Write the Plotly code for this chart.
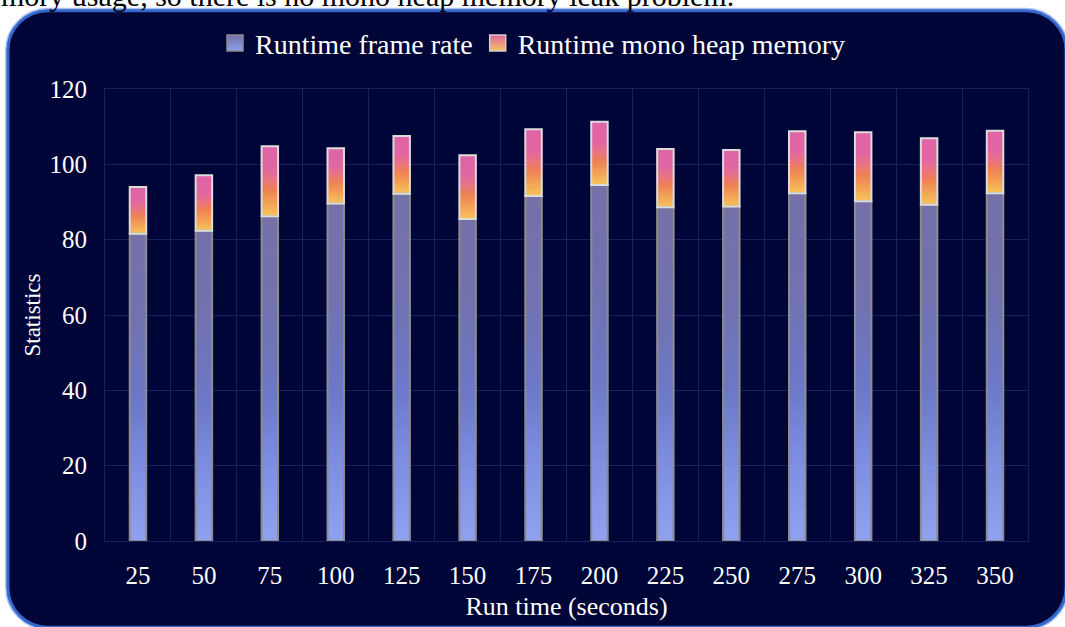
import plotly.graph_objects as go

# ---- data -------------------------------------------------------------
run_time = ["25", "50", "75", "100", "125", "150", "175",
            "200", "225", "250", "275", "300", "325", "350"]
frame_rate = [81.6, 82.4, 86.2, 89.6, 92.2, 85.5, 91.6,
              94.5, 88.6, 88.8, 92.3, 90.2, 89.3, 92.3]
mono_heap = [12.4, 14.7, 18.6, 14.7, 15.3, 16.9, 17.7,
             16.8, 15.5, 15.0, 16.5, 18.3, 17.6, 16.6]
y_ticks = [0, 20, 40, 60, 80, 100, 120]

# ---- styling ----------------------------------------------------------
W, H = 1065, 627
M_L, M_R, M_T, M_B = 105, 37, 89, 82
PW, PH = W - M_L - M_R, H - M_T - M_B
SERIF = "Liberation Serif, Times New Roman, serif"
CARD = "#000537"
GRID = "#17215e"
BAR_W = 0.25
SLICES = 40

# vertical gradients, listed bottom -> top
FRAME_STOPS = [(0.0, "#8fa1ef"), (0.22, "#7f8fe2"), (0.45, "#6c78c8"),
               (0.7, "#7172b0"), (1.0, "#7570a8")]
HEAP_STOPS = [(0.0, "#f6c55a"), (0.15, "#f4aa57"), (0.38, "#ee8155"),
              (0.55, "#e7728a"), (0.7, "#e066a4"), (1.0, "#df65a8")]


def hex_rgb(h):
    h = h.lstrip("#")
    return tuple(int(h[i:i + 2], 16) for i in (0, 2, 4))


def sample(stops, t):
    for (p0, c0), (p1, c1) in zip(stops[:-1], stops[1:]):
        if p0 <= t <= p1:
            f = (t - p0) / (p1 - p0) if p1 > p0 else 0
            a, b = hex_rgb(c0), hex_rgb(c1)
            r, g, bl = (round(a[i] + (b[i] - a[i]) * f) for i in range(3))
            return f"rgb({r},{g},{bl})"
    return stops[-1][1]


def px_x(px):
    return (px - M_L) / PW


def px_y(py):
    return (H - M_B - py) / PH


fig = go.Figure()


def gradient_bars(base, height, stops):
    """Paint a stacked segment as overlapping bands, each one running from
    its own start up to the segment top, so later bands cover earlier ones
    without leaving seams."""
    for k in range(SLICES):
        fig.add_trace(go.Bar(
            x=run_time,
            y=[h * (SLICES - k) / SLICES for h in height],
            base=[b + h * k / SLICES for b, h in zip(base, height)],
            width=BAR_W,
            marker=dict(color=sample(stops, (k + 0.5) / SLICES), line=dict(width=0)),
            showlegend=False, hoverinfo="skip",
        ))


zeros = [0] * len(run_time)
gradient_bars(zeros, frame_rate, FRAME_STOPS)
gradient_bars(frame_rate, mono_heap, HEAP_STOPS)

# outlines of the two stacked segments
fig.add_trace(go.Bar(
    x=run_time, y=frame_rate, base=zeros, width=BAR_W,
    marker=dict(color="rgba(0,0,0,0)", line=dict(color="#8c8c8c", width=2)),
    showlegend=False, name="Runtime frame rate",
))
fig.add_trace(go.Bar(
    x=run_time, y=mono_heap, base=frame_rate, width=BAR_W,
    marker=dict(color="rgba(0,0,0,0)", line=dict(color="#dcdcdc", width=2)),
    showlegend=False, name="Runtime mono heap memory",
))

# legend entries with gradient swatches
fig.add_trace(go.Scatter(
    x=[None], y=[None], mode="markers", name="Runtime frame rate",
    marker=dict(symbol="square", size=16, color="#7570a8",
                gradient=dict(type="vertical", color="#8fa1ef"),
                line=dict(color="#8c8c8c", width=1.5)),
))
fig.add_trace(go.Scatter(
    x=[None], y=[None], mode="markers", name="Runtime mono heap memory",
    marker=dict(symbol="square", size=16, color="#e066a4",
                gradient=dict(type="vertical", color="#f6c55a"),
                line=dict(color="#cfcfcf", width=1.5)),
))

# rounded card behind the chart
L, T, R, B, RAD = 8, 10, 1066, 632, 40
K = 0.5523 * RAD


def P(x, y):
    return f"{px_x(x):.5f},{px_y(y):.5f}"


card_path = (
    f"M{P(L + RAD, T)} L{P(R - RAD, T)} "
    f"C{P(R - RAD + K, T)} {P(R, T + RAD - K)} {P(R, T + RAD)} "
    f"L{P(R, B - RAD)} "
    f"C{P(R, B - RAD + K)} {P(R - RAD + K, B)} {P(R - RAD, B)} "
    f"L{P(L + RAD, B)} "
    f"C{P(L + RAD - K, B)} {P(L, B - RAD + K)} {P(L, B - RAD)} "
    f"L{P(L, T + RAD)} "
    f"C{P(L, T + RAD - K)} {P(L + RAD - K, T)} {P(L + RAD, T)} Z"
)
fig.add_shape(type="path", path=card_path, xref="paper", yref="paper",
              layer="below", line=dict(color="#a7c0f0", width=6),
              fillcolor=CARD)
fig.add_shape(type="path", path=card_path, xref="paper", yref="paper",
              layer="below", line=dict(color="#3466cb", width=3),
              fillcolor=CARD)

# text line running above the card
fig.add_annotation(
    text="mory usage, so there is no mono heap memory leak problem.",
    xref="paper", yref="paper", x=px_x(-1), y=px_y(13),
    xanchor="left", yanchor="bottom", showarrow=False,
    font=dict(family=SERIF, size=30, color="#000000"),
)

fig.update_layout(
    width=W, height=H,
    margin=dict(l=M_L, r=M_R, t=M_T, b=M_B),
    paper_bgcolor="#ffffff",
    plot_bgcolor="rgba(0,0,0,0)",
    barmode="overlay",
    font=dict(family=SERIF, color="#ffffff"),
    legend=dict(
        orientation="h", x=px_x(533), xanchor="center",
        y=px_y(43), yanchor="middle",
        font=dict(family=SERIF, size=28, color="#ffffff"),
        bgcolor="rgba(0,0,0,0)", itemclick=False,
    ),
    xaxis=dict(
        type="category", tickson="boundaries",
        showgrid=True, gridcolor=GRID, gridwidth=1,
        showline=True, linecolor=GRID, mirror=True,
        ticks="", ticklabelstandoff=12,
        tickfont=dict(family=SERIF, size=25, color="#ffffff"),
        title=dict(text="Run time (seconds)", standoff=8,
                   font=dict(family=SERIF, size=26, color="#ffffff")),
    ),
    yaxis=dict(
        range=[0, 120], tickvals=y_ticks,
        showgrid=True, gridcolor=GRID, gridwidth=1,
        zeroline=False, showline=True, linecolor=GRID, mirror=True,
        ticks="", ticklabelstandoff=12,
        tickfont=dict(family=SERIF, size=25, color="#ffffff"),
        title=dict(text="Statistics", standoff=2,
                   font=dict(family=SERIF, size=23, color="#ffffff")),
    ),
)

fig.write_html("out.html")
